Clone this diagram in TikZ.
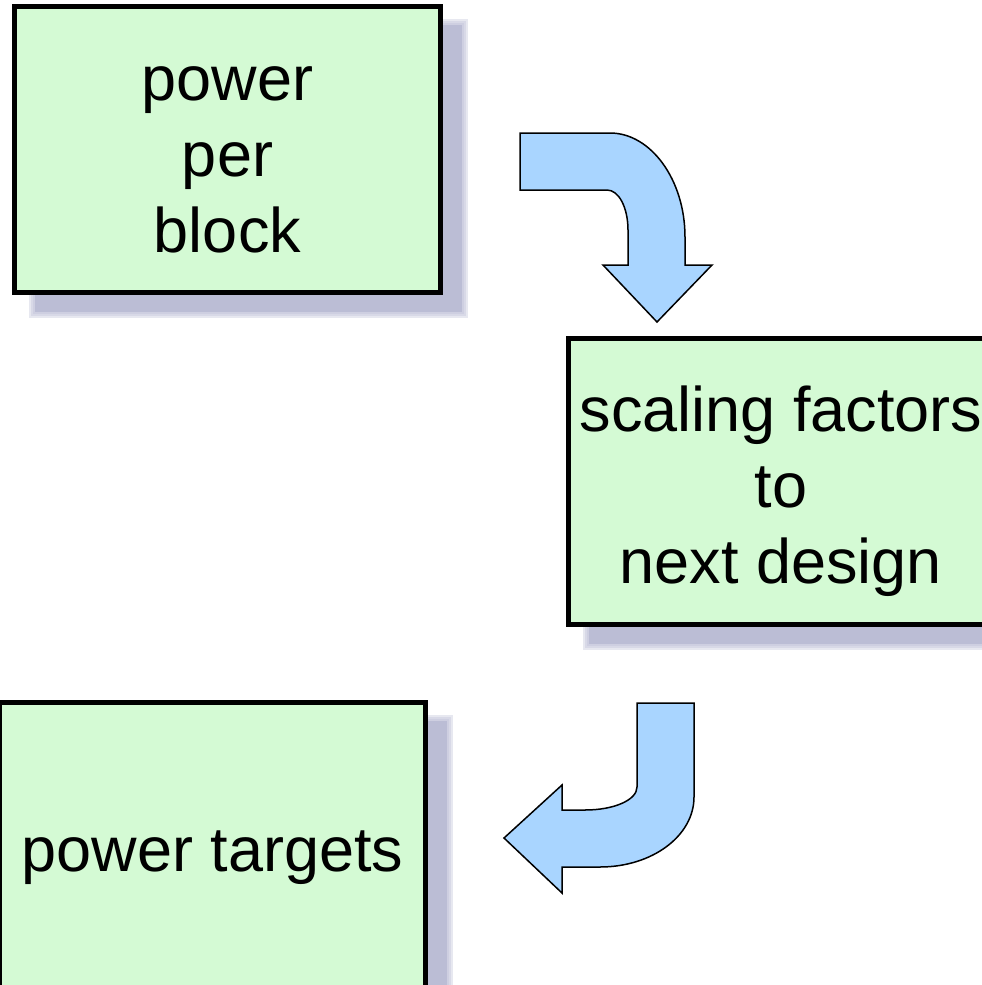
\documentclass[tikz,border=0pt]{standalone}
\usepackage{fontspec}
\setmainfont{Liberation Sans}
\usetikzlibrary{backgrounds}
\definecolor{boxgreen}{RGB}{212,250,212}
\definecolor{shadowc}{RGB}{187,189,213}
\definecolor{arrowblue}{RGB}{169,213,255}
\begin{document}
\begin{tikzpicture}[x=1pt,y=-1pt,
  box/.style={draw=black, line width=5pt, fill=boxgreen, minimum width=426pt, minimum height=286pt, inner sep=0pt},
  lbl/.style={align=center, inner sep=0pt, font=\fontsize{63}{76}\selectfont, yshift=-10pt},
  barrow/.style={draw=black, line width=1.5pt, fill=arrowblue, line join=miter},
  shadowlayer/.style={fill=shadowc, opacity=0.35}]
\useasboundingbox (0,0) rectangle (982,985);
\clip (0,0) rectangle (982,985);

\node[box] (b1) at (227.5,149.5) {};
\node[box] (b2) at (781,481.5) {};
\node[box, minimum height=290pt] (b3) at (212.5,847.5) {};

\node[lbl] (t1) at (b1.center) {power\\per\\block};
\node[lbl] (t2) at (b2.center) {scaling factors\\to\\next design};
\node[lbl] (t3) at (b3.center) {power targets};

\begin{pgfonlayer}{background}
  \foreach \n in {b1,b2,b3}{
    \fill[shadowc] ([shift={(23,21)}]\n.north west) rectangle ([shift={(19,17)}]\n.south east);
    \foreach \b in {-2,0,2,4}{
      \fill[shadowlayer] ([shift={(21-\b,19-\b)}]\n.north west) rectangle ([shift={(21+\b,19+\b)}]\n.south east);
    }
  }
\end{pgfonlayer}

% curved block arrow from b1 towards b2
\coordinate (a1s) at (520,133);
\draw[barrow] (a1s) -- (610,133)
  .. controls (651,133) and (685,180) .. (685,237)
  -- (685,265) -- (712,265) -- (657,322) -- (603,265) -- (628,265) -- (628,230)
  .. controls (628,208) and (619,190) .. (607,190)
  -- (520,190) -- cycle;

% curved block arrow from b2 towards b3
\coordinate (a2s) at (637,703);
\draw[barrow] (a2s) -- (694,703) -- (694,797)
  .. controls (694,836) and (652,867) .. (600,867)
  -- (562,867) -- (562,893) -- (504,838) -- (562,785) -- (562,810) -- (585,810)
  .. controls (614,810) and (637,800) .. (637,787)
  -- cycle;
\end{tikzpicture}
\end{document}
